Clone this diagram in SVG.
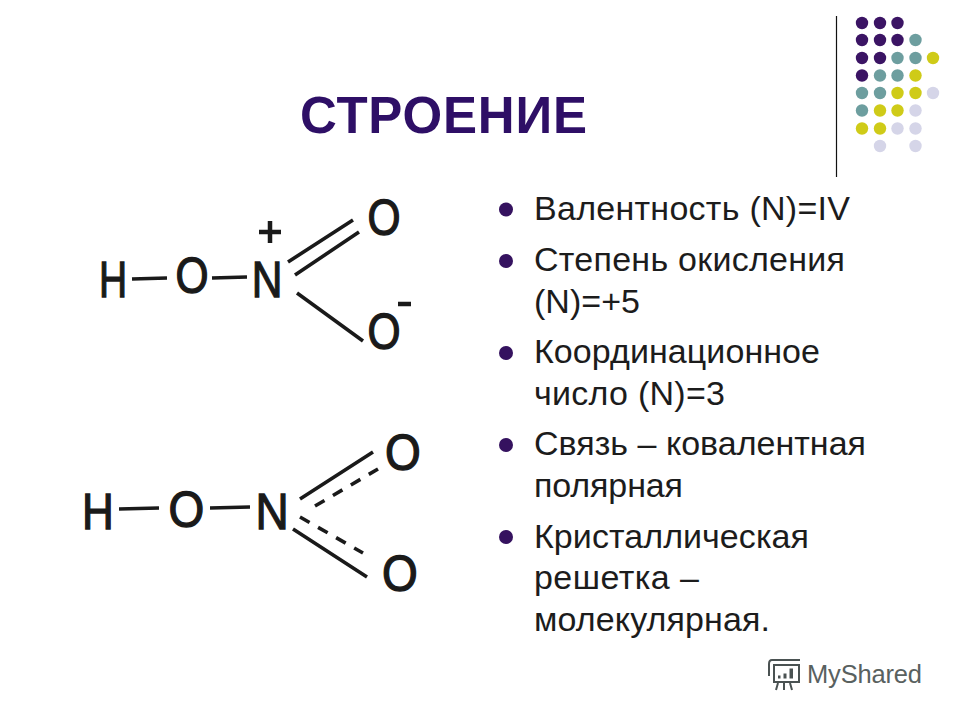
<svg xmlns="http://www.w3.org/2000/svg" width="960" height="720" viewBox="0 0 960 720">
<style>
.t{font-family:"Liberation Sans",Arial,sans-serif}
.title{font-size:51px;font-weight:700;fill:#2e0f66}
.b{font-size:34px;fill:#1c1c1c}
.a{font-size:50px;fill:#1a1a1a;text-anchor:middle;stroke:#1a1a1a;stroke-width:1.3}
.bond{stroke:#1a1a1a;stroke-width:3.6;fill:none}
.dash{stroke:#1a1a1a;stroke-width:3.6;fill:none;stroke-dasharray:11 9.8}
.p{fill:#3b1464}.g{fill:#6d9e9f}.y{fill:#cfcb18}.l{fill:#d5d5e8}
.bu{fill:#35125f}
</style>
<rect width="960" height="720" fill="#fff"/>
<g id="decor">
<line x1="836.5" y1="16" x2="836.5" y2="177" stroke="#111" stroke-width="1.2"/>
<g class="p"><circle cx="862" cy="23" r="6.2"/><circle cx="880" cy="23" r="6.2"/><circle cx="897.500" cy="23" r="6.2"/><circle cx="862" cy="40" r="6.2"/><circle cx="880" cy="40" r="6.2"/><circle cx="897.500" cy="40" r="6.2"/><circle cx="862" cy="58" r="6.2"/><circle cx="880" cy="58" r="6.2"/><circle cx="862" cy="75.500" r="6.2"/></g>
<g class="g"><circle cx="915.500" cy="40" r="6.2"/><circle cx="897.500" cy="58" r="6.2"/><circle cx="915.500" cy="58" r="6.2"/><circle cx="880" cy="75.500" r="6.2"/><circle cx="897.500" cy="75.500" r="6.2"/><circle cx="862" cy="93" r="6.2"/><circle cx="880" cy="93" r="6.2"/><circle cx="862" cy="110.500" r="6.2"/></g>
<g class="y"><circle cx="933" cy="58" r="6.2"/><circle cx="915.500" cy="75.500" r="6.2"/><circle cx="897.500" cy="93" r="6.2"/><circle cx="915.500" cy="93" r="6.2"/><circle cx="880" cy="110.500" r="6.2"/><circle cx="897.500" cy="110.500" r="6.2"/><circle cx="862" cy="128.500" r="6.2"/><circle cx="880" cy="128.500" r="6.2"/></g>
<g class="l"><circle cx="933" cy="93" r="6.2"/><circle cx="915.500" cy="110.500" r="6.2"/><circle cx="897.500" cy="128.500" r="6.2"/><circle cx="915.500" cy="128.500" r="6.2"/><circle cx="880" cy="146" r="6.2"/><circle cx="915.500" cy="146" r="6.2"/></g>
</g>
<text id="title" class="t title" x="300" y="133" textLength="287">СТРОЕНИЕ</text>
<g id="list" class="t b">
<g class="bu"><circle cx="506" cy="209.500" r="7"/><circle cx="506" cy="261" r="7"/><circle cx="506" cy="353" r="7"/><circle cx="506" cy="445" r="7"/><circle cx="506" cy="537" r="7"/></g>
<text x="534" y="220" textLength="316">Валентность (N)=IV</text>
<text x="534" y="271" textLength="311">Степень окисления</text>
<text x="534" y="313" textLength="106">(N)=+5</text>
<text x="534" y="363" textLength="286">Координационное</text>
<text x="534" y="405" textLength="191">число (N)=3</text>
<text x="534" y="455" textLength="332">Связь – ковалентная</text>
<text x="534" y="497" textLength="149">полярная</text>
<text x="534" y="548" textLength="275">Кристаллическая</text>
<text x="534" y="589" textLength="165">решетка –</text>
<text x="534" y="631" textLength="236">молекулярная.</text>
</g>
<g id="molecule1-atoms" class="t a">
<text transform="translate(113 297) scale(.78 1)">H</text><text transform="translate(192 293) scale(.85 1)">O</text><text transform="translate(267 297) scale(.85 1)">N</text><text transform="translate(384 235) scale(.85 1)">O</text><text transform="translate(384 348.500) scale(.85 1)">O</text>
</g>
<g id="connectors">
<path class="bond" d="M132 279L167 278M212 278L247 277M288 262L353 220M295 275L359 232M297 293L363 341"/>
<path d="M270 221V243M259 232H281M398 304H411" stroke="#1a1a1a" stroke-width="4.500" fill="none"/>
<path class="bond" d="M119 509L159 508M210 508L250 507M300 499L373 452M293 529L367 577"/>
<path class="dash" d="M315 506L378 469M300 517L363 553"/>
</g>
<g id="molecule2-atoms" class="t a">
<text transform="translate(98 529) scale(.88 1)">H</text><text transform="translate(186.500 526.500) scale(.92 1)">O</text><text transform="translate(272 529) scale(.92 1)">N</text><text transform="translate(403 469.500) scale(.92 1)">O</text><text transform="translate(400 590.500) scale(.92 1)">O</text>
</g>
<g id="watermark">
<path d="M772 660H800M774 665H799V682H774ZM772 660Q769 660 769 664V676M778 683L776 690M784 683V690M790 683L792 690" fill="none" stroke="#4a5252" stroke-width="2"/>
<path d="M778 678.500h2.500v-3h-2.500zM783.500 678.500h3v-5h-3zM789.500 678.500h3.500v-10h-3.500z" fill="#4a5252"/>
<text x="807" y="683" class="t" font-size="25.500" textLength="115" fill="#59615f">MyShared</text>
</g>
</svg>
